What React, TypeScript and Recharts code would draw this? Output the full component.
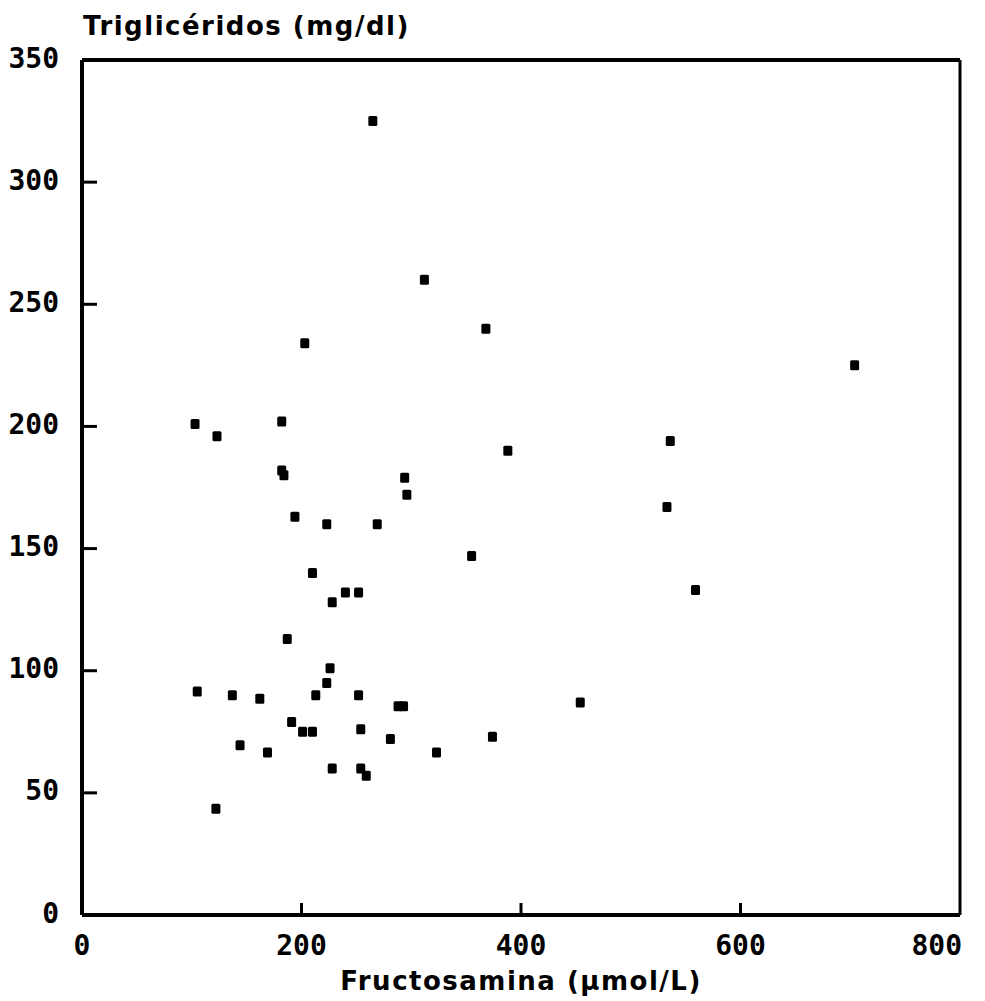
import { ReferenceLine, Scatter, ScatterChart, XAxis, YAxis } from "recharts";

// Fructosamina (umol/L) vs Triglicéridos (mg/dl)
const fructosamina = [
  265, 312, 368, 203, 704, 536, 388, 103, 123, 182, 182, 184, 294, 296, 533, 194,
  223, 269, 355, 210, 240, 252, 228, 559, 187, 226, 223, 105, 137, 162, 213, 252,
  288, 293, 454, 191, 201, 210, 254, 281, 323, 374, 144, 169, 228, 254, 259, 122,
];
const trigliceridos = [
  325, 260, 240, 234, 225, 194, 190, 201, 196, 202, 182, 180, 179, 172, 167, 163,
  160, 160, 147, 140, 132, 132, 128, 133, 113, 101, 95, 91.5, 90, 88.5, 90, 90,
  85.5, 85.5, 87, 79, 75, 75, 76, 72, 66.5, 73, 69.5, 66.5, 60, 60, 57, 43.5,
];
const xTicks = [0, 200, 400, 600, 800];
const yTicks = [0, 50, 100, 150, 200, 250, 300, 350];

const points = fructosamina.map((x, i) => ({ x, y: trigliceridos[i] }));

const tickFont = { fontFamily: "'DejaVu Sans Mono', monospace", fontWeight: 700, fontSize: 28 };
const titleFont = { fontFamily: "'DejaVu Sans', sans-serif", fontWeight: 700, fontSize: 26, letterSpacing: 1.5 };

function XTick(props: any) {
  const { x, y, payload } = props;
  const v = payload.value;
  return (
    <g>
      {v !== 0 && v !== 800 && <line x1={x} x2={x} y1={y} y2={y - 12} stroke="#000" strokeWidth={3} />}
      <text x={x} y={y + 30} textAnchor={v === 800 ? "end" : "middle"} dx={v === 800 ? 2 : 0} dominantBaseline="central" fill="#000" {...tickFont}>
        {v}
      </text>
    </g>
  );
}

function YTick(props: any) {
  const { x, y, payload } = props;
  const v = payload.value;
  return (
    <g>
      {v !== 0 && v !== 350 && <line x1={x} x2={x + 15} y1={y} y2={y} stroke="#000" strokeWidth={3} />}
      <text x={x - 23} y={y - 2} textAnchor="end" dominantBaseline="central" fill="#000" {...tickFont}>
        {v}
      </text>
    </g>
  );
}

function Marker(props: any) {
  const { cx, cy } = props;
  return <rect x={cx - 4.5} y={cy - 5} width={9} height={10} rx={1.5} fill="#000" />;
}

export default function App() {
  return (
    <div style={{ position: "absolute", left: 0, top: 0, background: "#fff" }}>
      <ScatterChart width={985} height={1001} margin={{ top: 60, right: 25, bottom: 0, left: 0 }}>
        <XAxis
          type="number"
          dataKey="x"
          domain={[0, 800]}
          ticks={xTicks}
          interval={0}
          height={86}
          axisLine={{ stroke: "#000", strokeWidth: 4 }}
          tickLine={false}
          tickSize={0}
          tickMargin={0}
          tick={<XTick />}
          label={(p: any) => {
            const vb = p.viewBox;
            return (
              <text x={vb.x + vb.width / 2} y={vb.y + 66} textAnchor="middle" dominantBaseline="central" fill="#000" {...titleFont}>
                Fructosamina (μmol/L)
              </text>
            );
          }}
        />
        <YAxis
          type="number"
          dataKey="y"
          domain={[0, 350]}
          ticks={yTicks}
          interval={0}
          width={82}
          axisLine={{ stroke: "#000", strokeWidth: 4 }}
          tickLine={false}
          tickSize={0}
          tickMargin={0}
          tick={<YTick />}
          label={(p: any) => {
            const vb = p.viewBox;
            return (
              <text x={vb.x + vb.width + 1} y={vb.y - 34} textAnchor="start" dominantBaseline="central" fill="#000" {...titleFont}>
                Triglicéridos (mg/dl)
              </text>
            );
          }}
        />
        <ReferenceLine y={350} stroke="#000" strokeWidth={4} ifOverflow="visible" />
        <ReferenceLine x={800} stroke="#000" strokeWidth={3} ifOverflow="visible" />
        <Scatter data={points} fill="#000" shape={<Marker />} isAnimationActive={false} />
      </ScatterChart>
    </div>
  );
}
